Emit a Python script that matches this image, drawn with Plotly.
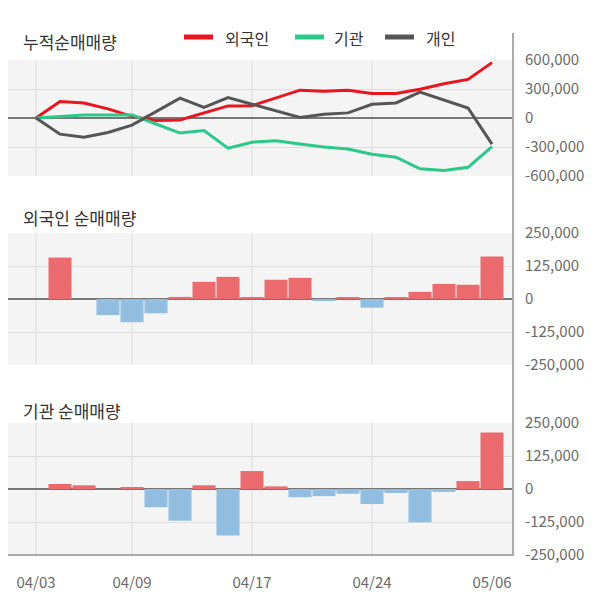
import plotly.graph_objects as go

# ---------------- data ----------------
dates = ["04/03", "04/04", "04/05", "04/08", "04/09", "04/11", "04/12", "04/15", "04/16", "04/17",
         "04/18", "04/19", "04/22", "04/23", "04/24", "04/25", "04/26", "04/29", "04/30", "05/06"]
tick_dates = ["04/03", "04/09", "04/17", "04/24", "05/06"]
grid_dates = ["04/03", "04/09", "04/17", "04/24"]

series_names = ["외국인", "기관", "개인"]
foreign_cum = [0, 170000, 156000, 94000, 17000, -25000, -20000, 52000, 125000, 128000,
               204000, 288000, 277000, 288000, 253000, 253000, 298000, 354000, 399000, 573000]
inst_cum = [0, 14000, 31000, 31000, 32000, -62000, -156000, -129000, -312000, -250000,
            -236000, -268000, -299000, -320000, -375000, -406000, -525000, -542000, -510000, -296000]
indiv_cum = [0, -167000, -198000, -150000, -73000, 66000, 206000, 110000, 211000, 142000,
             73000, 6000, 38000, 53000, 142000, 156000, 267000, 183000, 104000, -271000]

foreign_net = [0, 157000, 0, -61000, -88000, -54000, 8000, 65000, 84000, 4000,
               73000, 80000, -5000, 7000, -33000, 4000, 27000, 57000, 54000, 161000]
inst_net = [0, 19000, 14000, 0, 6000, -69000, -120000, 14000, -176000, 68000,
            10000, -31000, -27000, -18000, -57000, -15000, -126000, -11000, 30000, 214000]

titles = ["누적순매매량", "외국인 순매매량", "기관 순매매량"]
top_ticks = [-600000, -300000, 0, 300000, 600000]
bar_ticks = [-250000, -125000, 0, 125000, 250000]

# ---------------- style ----------------
OFF = 8                      # page body margin
W, H = 592, 588
FONT = "Noto Sans CJK KR"
RED, GREEN, DARK = "#e8141e", "#2bc88a", "#555555"
BAR_UP, BAR_DN = "#ea6a6d", "#90bde0"
GRID = "#dedede"
TICKC = "#6a6a6a"


def px(x):
    return (x - OFF) / W


def py(y):
    return (H - (y - OFF)) / H


fig = go.Figure()
line_colors = [RED, GREEN, DARK]
for name, vals, col in zip(series_names, [foreign_cum, inst_cum, indiv_cum], line_colors):
    fig.add_trace(go.Scatter(x=dates, y=vals, mode="lines", name=name,
                             line=dict(color=col, width=3), xaxis="x", yaxis="y",
                             showlegend=False))

fig.add_trace(go.Bar(x=dates, y=foreign_net, xaxis="x2", yaxis="y2", showlegend=False,
                     marker=dict(color=[BAR_UP if v >= 0 else BAR_DN for v in foreign_net],
                                 line=dict(width=0))))
fig.add_trace(go.Bar(x=dates, y=inst_net, xaxis="x3", yaxis="y3", showlegend=False,
                     marker=dict(color=[BAR_UP if v >= 0 else BAR_DN for v in inst_net],
                                 line=dict(width=0))))

xr = [-1.5 + 8 / 24, 19.875]
xcommon = dict(type="category", range=xr, domain=[0, px(513)], tickvals=tick_dates,
               showgrid=False, zeroline=False, ticks="",
               showline=False, automargin=False, fixedrange=True,
               categoryorder="array", categoryarray=dates)


def ycommon(dom, rng, tv):
    return dict(domain=dom, range=rng, tickvals=tv, ticktext=[f"{v:,}" for v in tv],
                side="right", showgrid=True, gridcolor=GRID, gridwidth=1,
                zeroline=True, zerolinecolor="#777777", zerolinewidth=2,
                ticks="", ticklabelstandoff=11, automargin=False, fixedrange=True,
                tickfont=dict(family=FONT, size=15, color=TICKC))


fig.update_layout(
    width=W, height=H,
    margin=dict(l=0, r=0, t=0, b=0),
    paper_bgcolor="white", plot_bgcolor="#f4f4f4",
    bargap=0.04,
    font=dict(family=FONT, color="#333333"),
    xaxis=dict(**xcommon, anchor="y", showticklabels=False),
    xaxis2=dict(**xcommon, anchor="y2", showticklabels=False),
    xaxis3=dict(**xcommon, anchor="y3", showticklabels=True, ticklabelstandoff=17,
                tickfont=dict(family=FONT, size=15, color=TICKC)),
    yaxis=ycommon([py(176), py(60)], [-600000, 600000], top_ticks),
    yaxis2=ycommon([py(365), py(233)], [-250000, 250000], bar_ticks),
    yaxis3=ycommon([py(555), py(423)], [-250000, 250000], bar_ticks),
)

annotations = []
for t, y in zip(titles, [41, 218, 410]):
    annotations.append(dict(text=t, xref="paper", yref="paper", x=px(21), y=py(y),
                            xanchor="left", yanchor="middle", showarrow=False,
                            font=dict(family=FONT, size=17, color="#333333")))

shapes = []
# vertical grid lines (no line at the last date in the reference)
for xa, ya in [("x", "y"), ("x2", "y2"), ("x3", "y3")]:
    for d in grid_dates:
        shapes.append(dict(type="line", xref=xa, yref=f"{ya} domain", x0=d, x1=d,
                           y0=0, y1=1, layer="below", line=dict(color=GRID, width=1)))

legend_pos = [(184, 223), (295, 332), (385, 424)]
for name, col, (lx, tx) in zip(series_names, line_colors, legend_pos):
    shapes.append(dict(type="line", xref="paper", yref="paper", x0=px(lx), x1=px(lx + 29),
                       y0=py(37), y1=py(37), line=dict(color=col, width=5)))
    annotations.append(dict(text=name, xref="paper", yref="paper", x=px(tx), y=py(38),
                            xanchor="left", yanchor="middle", showarrow=False,
                            font=dict(family=FONT, size=16, color="#333333")))

# right border line and bottom axis line
shapes.append(dict(type="line", xref="paper", yref="paper", x0=px(513), x1=px(513),
                   y0=py(33), y1=py(556), line=dict(color="#aaaaaa", width=2)))
shapes.append(dict(type="line", xref="paper", yref="paper", x0=0, x1=px(514),
                   y0=py(555), y1=py(555), line=dict(color="#aaaaaa", width=2)))

fig.update_layout(annotations=annotations, shapes=shapes)
fig.write_html("out.html")
